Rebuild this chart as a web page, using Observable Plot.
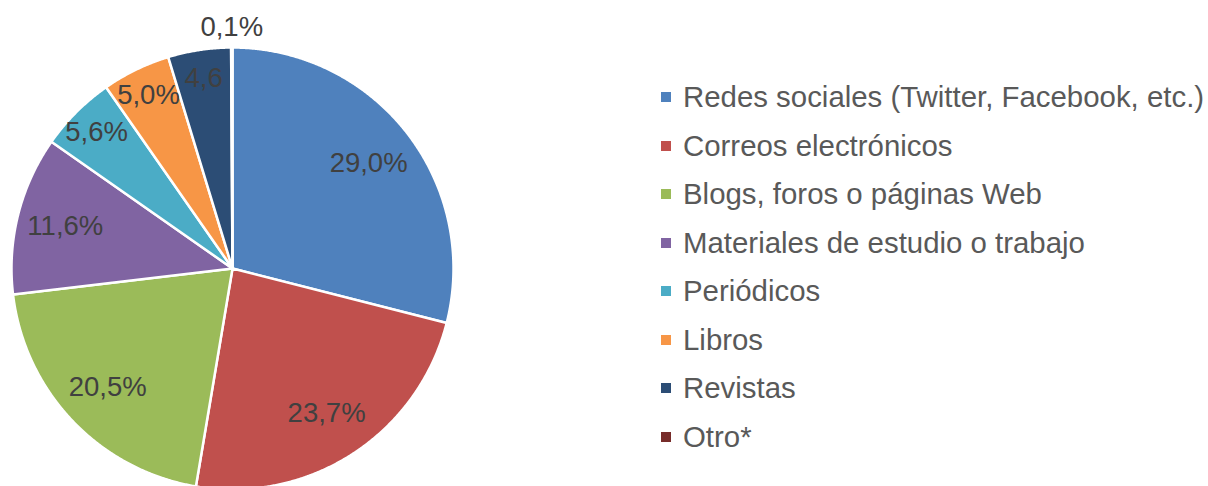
<!DOCTYPE html>
<html><head><meta charset="utf-8">
<script src="https://cdn.jsdelivr.net/npm/d3@7"></script>
<script src="https://cdn.jsdelivr.net/npm/@observablehq/plot@0.6"></script>
<style>
body{margin:0;background:#fff;font-family:"Liberation Sans",Arial,sans-serif;}
#wrap{position:relative;width:1208px;height:486px;overflow:hidden;background:#fff;}
#chart{position:absolute;left:0;top:0;}
#legend{position:absolute;left:661px;top:72.75px;}
.row{height:48.5px;display:flex;align-items:center;}
.sw{width:10px;height:10px;flex:none;}
.lt{margin-left:12px;font-size:29.4px;color:#595959;white-space:nowrap;line-height:1;}
</style></head><body>
<div id="wrap"><div id="chart"></div><div id="legend"></div></div>
<script>
const categories = ["Redes sociales (Twitter, Facebook, etc.)", "Correos electrónicos", "Blogs, foros o páginas Web", "Materiales de estudio o trabajo", "Periódicos", "Libros", "Revistas", "Otro*"];
const values = [29.0, 23.7, 20.5, 11.6, 5.6, 5.0, 4.6, 0.1];
const labels = ["29,0%", "23,7%", "20,5%", "11,6%", "5,6%", "5,0%", "4,6", "0,1%"];
const colors = ["#4F81BD", "#C0504D", "#9BBB59", "#8064A2", "#4BACC6", "#F79646", "#2C4D75", "#772C2A"];

const W = 640, H = 486, cx = 232, cy = 268, R = 221;
const data = categories.map((c, i) => ({cat: c, value: values[i], label: labels[i]}));
const arcs = d3.pie().sort(null).value(d => d.value)(data);

const pts = [];
arcs.forEach(a => {
  const c = a.data.cat;
  pts.push({cat: c, x: 0, y: 0});
  const n = Math.max(2, Math.ceil((a.endAngle - a.startAngle) / 0.005));
  for (let i = 0; i <= n; i++) {
    const t = a.startAngle + (a.endAngle - a.startAngle) * i / n;
    pts.push({cat: c, x: Math.sin(t), y: Math.cos(t)});
  }
  pts.push({cat: c, x: 0, y: 0});
});

const labelPts = arcs.map(a => {
  const m = (a.startAngle + a.endAngle) / 2;
  const v = a.data.value;
  const f = v < 1 ? 1.09 : v < 10 ? 0.87 : 0.78;
  return {x: f * Math.sin(m), y: f * Math.cos(m), text: a.data.label};
});

const chart = Plot.plot({
  width: W, height: H,
  margin: 0,
  x: {domain: [-cx / R, (W - cx) / R], range: [0, W], axis: null},
  y: {domain: [(cy - H) / R, cy / R], range: [H, 0], axis: null},
  color: {domain: categories, range: colors},
  style: {fontFamily: "'Liberation Sans', Arial, sans-serif", background: "#fff"},
  marks: [
    Plot.line(pts, {x: "x", y: "y", z: "cat", fill: "cat", stroke: "#fff", strokeWidth: 2.5, strokeLinejoin: "round", curve: "linear"}),
    Plot.text(labelPts, {x: "x", y: "y", text: "text", fill: "#404040", fontSize: 27.5, textAnchor: "middle", lineAnchor: "middle"})
  ]
});
document.getElementById("chart").appendChild(chart);

const leg = document.getElementById("legend");
categories.forEach((c, i) => {
  const row = document.createElement("div");
  row.className = "row";
  const sw = document.createElement("div");
  sw.className = "sw"; sw.style.background = colors[i];
  const t = document.createElement("div");
  t.className = "lt"; t.textContent = c;
  row.appendChild(sw); row.appendChild(t);
  leg.appendChild(row);
});
</script>
</body></html>
